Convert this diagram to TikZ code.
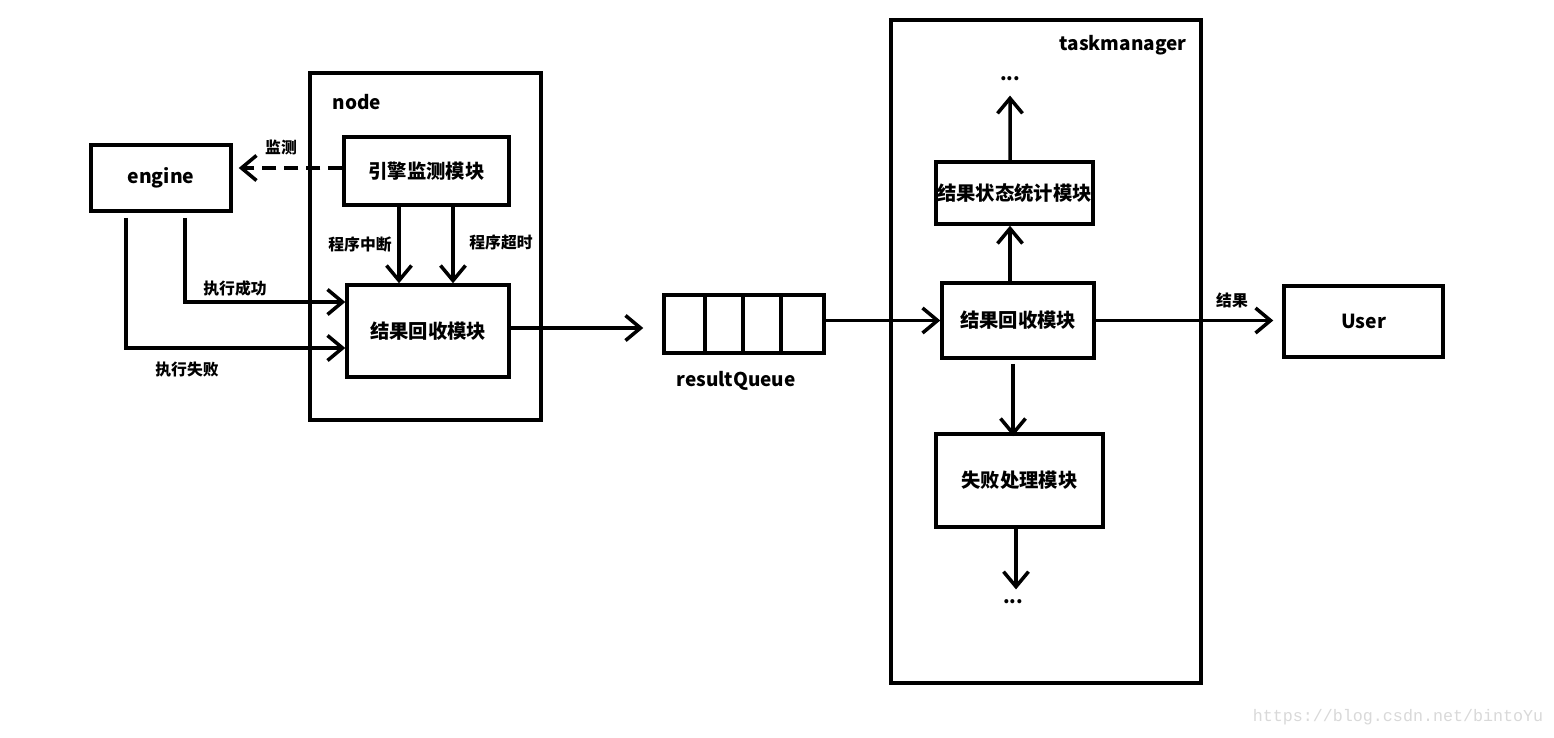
\documentclass[tikz,border=0pt]{standalone}
\usepackage{fontspec}
\setmainfont{Noto Sans CJK SC}
\newfontfamily\wmfont{Liberation Mono}
\usepackage{tikz}
\usetikzlibrary{arrows.meta}

\tikzset{
    box/.style={rectangle, draw, inner sep=0pt, font=\fontsize{11pt}{13pt}\selectfont\bfseries},
    lbl/.style={inner sep=1pt, font=\fontsize{9pt}{10pt}\selectfont\bfseries},
    title/.style={inner sep=1pt, font=\fontsize{10.8pt}{12pt}\selectfont\bfseries},
    arr/.style={-{Straight Barb[length=0.3cm, width=0.5cm]}},
}

\begin{document}
\begin{tikzpicture}[x=0.02cm, y=-0.02cm, line width=2pt]
    \useasboundingbox[fill=white] (0,0) rectangle (1554,737);

    \node[box, minimum width=2.8cm, minimum height=1.32cm] (engine) at (161,178) {engine};
    \node[rectangle, draw, minimum width=4.62cm, minimum height=6.94cm] (nodebox) at (425.5,246.5) {};
    \node[title] (nodetitle) at (357,102) {node};
    \node[box, minimum width=3.3cm, minimum height=1.36cm] (monitor) at (426.5,171) {引擎监测模块};
    \node[box, minimum width=3.24cm, minimum height=1.84cm] (collect) at (428,331) {结果回收模块};

    \node[rectangle, draw, minimum width=3.2cm, minimum height=1.16cm] (queue) at (744,324) {};
    \foreach \x in {705,743,781}
        \draw (\x,295) -- (\x,353);
    \node[title] (queuetitle) at (736,381) {resultQueue};

    \node[rectangle, draw, minimum width=6.2cm, minimum height=13.26cm] (tm) at (1046,351.5) {};
    \node[title] (tmtitle) at (1123,45) {taskmanager};
    \node[box, minimum width=3.14cm, minimum height=1.24cm] (stat) at (1014.5,193) {结果状态统计模块};
    \node[box, minimum width=3.04cm, minimum height=1.5cm] (tmcollect) at (1018,320.5) {结果回收模块};
    \node[box, minimum width=3.34cm, minimum height=1.86cm] (fail) at (1019.5,480.5) {失败处理模块};
    \node[title] (dotsup) at (1010,79) {...};
    \node[title] (dotsdown) at (1013,602) {...};

    \node[box, minimum width=3.18cm, minimum height=1.42cm] (user) at (1363.5,321.5) {User};

    \draw[arr, dash pattern=on 0.28cm off 0.16cm, shorten >=0.12cm] ([yshift=0.06cm]monitor.west) -- ([yshift=0.06cm]monitor.west -| engine.east);
    \node[lbl] at (281,148) {监测};

    \draw[arr] ([xshift=-0.55cm]monitor.south) -- ([xshift=-0.55cm]monitor.south |- collect.north);
    \draw[arr] ([xshift=0.53cm]monitor.south) -- ([xshift=0.53cm]monitor.south |- collect.north);
    \node[lbl] at (360,244) {程序中断};
    \node[lbl] at (501,242) {程序超时};

    \draw[arr] ([xshift=0.48cm, yshift=-0.1cm]engine.south) |- ([yshift=0.58cm]collect.west);
    \draw[arr] ([xshift=-0.7cm, yshift=-0.1cm]engine.south) |- ([yshift=-0.34cm]collect.west);
    \node[lbl] at (235,288) {执行成功};
    \node[lbl] at (187,370) {执行失败};

    \draw[arr, shorten >=0.38cm] ([yshift=0.06cm]collect.east) -- ([yshift=0.06cm]collect.east -| queue.west);
    \draw[arr] (queue.east |- tmcollect.west) -- (tmcollect.west);

    \draw[arr] ([xshift=-0.16cm]tmcollect.north) -- ([xshift=-0.16cm]tmcollect.north |- stat.south);
    \draw[arr, shorten >=0.22cm] ([xshift=-0.09cm]stat.north) -- (dotsup.south);
    \draw[arr] ([xshift=-0.1cm, yshift=-0.08cm]tmcollect.south) -- ([xshift=-0.1cm, yshift=-0.08cm]tmcollect.south |- fail.north);
    \draw[arr, shorten >=0.14cm] ([xshift=-0.07cm]fail.south) -- ([xshift=-0.07cm]fail.south |- dotsdown.north);

    \draw[arr, shorten >=0.18cm] (tmcollect.east) -- (tmcollect.east -| user.west);
    \node[lbl] at (1232,300) {结果};

    \node[inner sep=0pt, text=black!15, font=\wmfont\fontsize{9.5pt}{11pt}\selectfont] (mark) at (1398,717) {https://blog.csdn.net/bintoYu};
\end{tikzpicture}
\end{document}
